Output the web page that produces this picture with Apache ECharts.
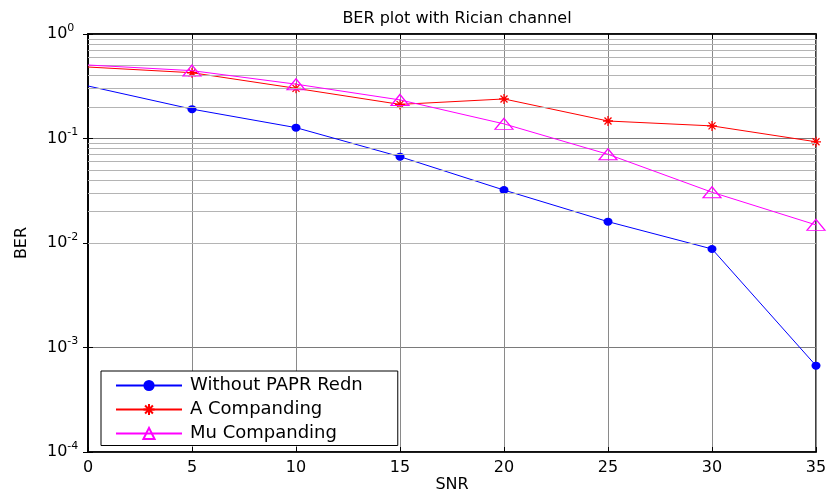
<!DOCTYPE html>
<html>
<head>
<meta charset="utf-8">
<script src="https://cdn.jsdelivr.net/npm/echarts@6/dist/echarts.min.js"></script>
<style>html,body{margin:0;padding:0;background:#fff}#c{width:828px;height:492px}</style>
</head>
<body>
<div id="c"></div>
<script>
const snr = [0, 5, 10, 15, 20, 25, 30, 35];
const berWithout = [0.318, 0.191, 0.127, 0.067, 0.0321, 0.0160, 0.00877, 0.00067];
const berA = [0.483, 0.426, 0.302, 0.212, 0.239, 0.147, 0.132, 0.093];
const berMu = [0.505, 0.446, 0.331, 0.234, 0.138, 0.0706, 0.0306, 0.0149];
const seriesNames = ['Without PAPR Redn', 'A Companding', 'Mu Companding'];
const titleText = 'BER plot with Rician channel';
const xName = 'SNR';
const yName = 'BER';
const xTicks = [0, 5, 10, 15, 20, 25, 30, 35];
const yDecades = [-4, -3, -2, -1, 0];

const FONT = 'DejaVu Sans';
// first point sits on the left frame without a marker, as in the reference
const pair = (ys) => snr.map((x, i) => i === 0 ? {value: [x, ys[i]], symbol: 'none'} : [x, ys[i]]);

const minorVals = [];
for (const e of yDecades.slice(0, -1)) {
  for (let k = 2; k <= 9; k++) minorVals.push(k * Math.pow(10, e));
}

const asterisk = 'path://M0,5L10,5M5,0L5,10M1.5,1.5L8.5,8.5M1.5,8.5L8.5,1.5';

const chart = echarts.init(document.getElementById('c'), null, {renderer: 'canvas'});
chart.setOption({
  animation: false,
  backgroundColor: '#fff',
  title: {
    text: titleText, left: 452, top: 6, textAlign: 'center',
    textStyle: {fontFamily: FONT, fontSize: 16, fontWeight: 'normal', color: '#000'}
  },
  grid: {left: 88, right: 12, top: 34, bottom: 40, containLabel: false, outerBoundsMode: 'none',
    show: true, borderColor: '#000', borderWidth: 1.5, backgroundColor: '#fff'},
  legend: {
    data: seriesNames,
    orient: 'vertical', left: 101, top: 371,
    itemWidth: 66, itemHeight: 14, itemGap: 6,
    padding: [5.5, 35, 3, 14],
    backgroundColor: '#fff', borderColor: '#000', borderWidth: 1,
    textStyle: {fontFamily: FONT, fontSize: 18, color: '#000', lineHeight: 17, padding: [0, 0, 0, 3]}
  },
  xAxis: [{
    type: 'value', min: 0, max: 35, interval: 5,
    name: xName, nameLocation: 'middle', nameGap: 25, nameMoveOverlap: false,
    nameTextStyle: {fontFamily: FONT, fontSize: 16, color: '#000'},
    axisLine: {show: true, lineStyle: {color: '#000', width: 1.5}},
    axisTick: {show: true, inside: true, length: 5, lineStyle: {color: '#000'}},
    axisLabel: {fontFamily: FONT, fontSize: 16, color: '#000', margin: 8,
      formatter: (v) => xTicks.includes(v) ? String(v) : ''},
    splitLine: {show: true, lineStyle: {color: '#8a8a8a', width: 1}}
  }, {
    type: 'value', min: 0, max: 35, interval: 5, position: 'top',
    axisLine: {show: true, lineStyle: {color: '#000', width: 1.5}},
    axisTick: {show: true, inside: true, length: 5, lineStyle: {color: '#000'}},
    axisLabel: {show: false}, splitLine: {show: false}
  }],
  yAxis: [{
    type: 'log', logBase: 10, min: 1e-4, max: 1,
    name: yName, nameLocation: 'middle', nameGap: 58, nameMoveOverlap: false,
    nameTextStyle: {fontFamily: FONT, fontSize: 16, color: '#000'},
    axisLine: {show: true, lineStyle: {color: '#000', width: 1.5}},
    axisTick: {show: true, inside: true, length: 5, lineStyle: {color: '#000'}},
    axisLabel: {
      align: 'left', margin: 41,
      formatter: (v) => '{b|10}{e|' + Math.round(Math.log10(v)) + '}',
      rich: {
        b: {fontFamily: FONT, fontSize: 16, color: '#000'},
        e: {fontFamily: FONT, fontSize: 11, color: '#000', padding: [0, 0, 12, 0]}
      }
    },
    splitLine: {show: true, lineStyle: {color: '#7a7a7a', width: 1}}
  }, {
    type: 'log', logBase: 10, min: 1e-4, max: 1, position: 'right',
    axisLine: {show: true, lineStyle: {color: '#000', width: 1.5}},
    axisTick: {show: true, inside: true, length: 5, lineStyle: {color: '#000'}},
    axisLabel: {show: false}, splitLine: {show: false}
  }],
  series: [
    {
      name: '_minorgrid', type: 'line', data: [], z: 1, silent: true,
      markLine: {
        silent: true, symbol: 'none', label: {show: false},
        lineStyle: {color: '#b4b4b4', width: 1, type: 'solid'},
        data: minorVals.map(v => ({yAxis: v}))
      }
    },
    {
      name: seriesNames[0], type: 'line', data: pair(berWithout), z: 3,
      symbol: 'circle', symbolSize: [9, 8],
      lineStyle: {color: '#0000ff', width: 1},
      itemStyle: {color: '#0000ff'}
    },
    {
      name: seriesNames[1], type: 'line', data: pair(berA), z: 4,
      symbol: asterisk, symbolSize: 10,
      lineStyle: {color: '#ff0000', width: 1},
      itemStyle: {color: 'rgba(0,0,0,0)', borderColor: '#ff0000', borderWidth: 1.3}
    },
    {
      name: seriesNames[2], type: 'line', data: pair(berMu), z: 5,
      symbol: 'triangle', symbolSize: [18, 11],
      lineStyle: {color: '#ff00ff', width: 1},
      itemStyle: {color: 'rgba(0,0,0,0)', borderColor: '#ff00ff', borderWidth: 1.2}
    }
  ]
});
</script>
</body>
</html>
